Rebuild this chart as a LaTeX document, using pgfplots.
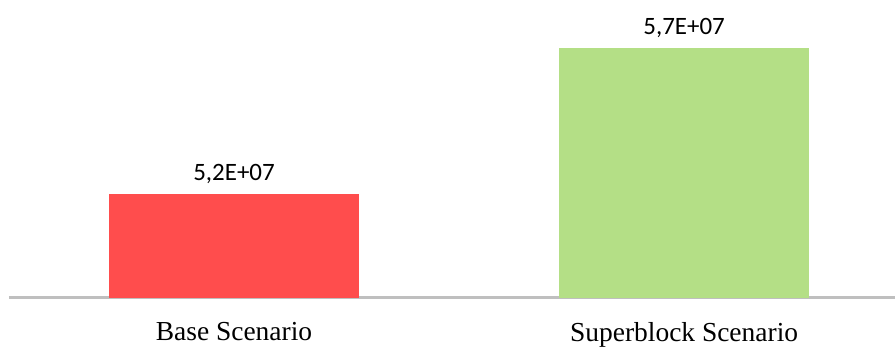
\documentclass[border=0pt]{standalone}
\usepackage{fontspec}
\setmainfont{Liberation Serif}
\newfontfamily\carlito{Carlito}
\usepackage{pgfplots}
\pgfplotsset{compat=1.18}
\definecolor{barred}{RGB}{255,77,77}
\definecolor{bargreen}{RGB}{180,223,134}
\definecolor{axisgray}{RGB}{191,191,191}
\begin{document}
\begin{tikzpicture}
\begin{axis}[
  at={(0pt,0pt)}, anchor=south west,
  scale only axis,
  width=887pt, height=288pt,
  xmin=-0.5, xmax=1.468,
  ymin=4.844e7, ymax=5.83e7,
  axis y line=none,
  axis x line*=bottom,
  x axis line style={draw=axisgray, line width=2.5pt, -},
  xtick={0,1},
  xticklabels={Base Scenario, Superblock Scenario},
  xtick style={draw=none},
  xticklabel style={font=\fontsize{27.5}{32}\selectfont, yshift=-17pt},
  ybar, bar width=250pt, bar shift=0pt,
  clip=false,
  nodes near coords,
  point meta=explicit symbolic,
  every node near coord/.append style={font=\carlito\fontsize{25}{30}\selectfont, anchor=south, yshift=6.5pt, text=black},
]
\addplot[fill=barred, draw=none] table[meta=label] {
x y label
0 5.2e7 5,2E+07
};
\addplot[fill=bargreen, draw=none] table[meta=label] {
x y label
1 5.7e7 5,7E+07
};
\end{axis}
\path (-9pt,-52pt) rectangle (887pt,298pt);
\end{tikzpicture}
\end{document}
